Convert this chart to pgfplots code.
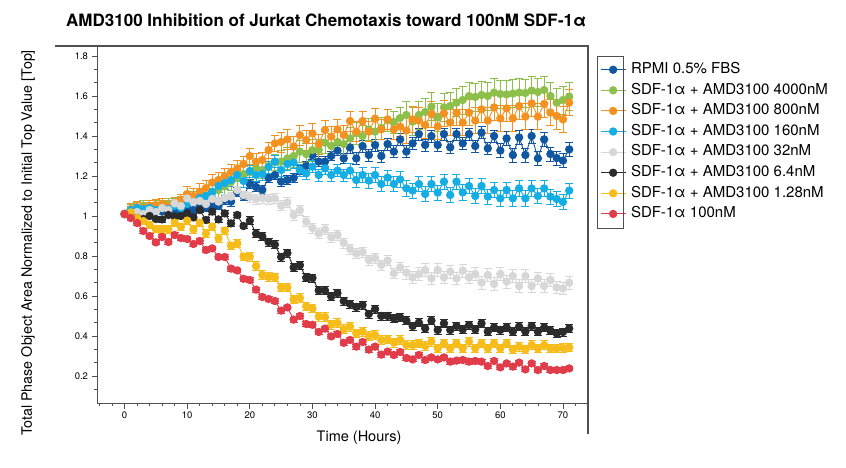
\documentclass[border=0pt]{standalone}
\usepackage{pgfplots}
\pgfplotsset{compat=1.18}
\usepackage{pgfplotstable}
\usepackage{fontspec}
\setmainfont{TeX Gyre Heros}

\definecolor{cRPMI}{RGB}{16,86,160}
\definecolor{cG}{RGB}{141,192,74}
\definecolor{cO}{RGB}{243,146,32}
\definecolor{cLB}{RGB}{20,174,229}
\definecolor{cGr}{RGB}{215,215,215}
\definecolor{cBk}{RGB}{43,43,43}
\definecolor{cY}{RGB}{246,188,26}
\definecolor{cR}{RGB}{224,60,74}
\definecolor{frame}{RGB}{80,80,80}

% time (h), mean and error for each condition
\pgfplotstableread{
t  rp    erp   g     eg    o     eo    lb    elb   gr    egr   bk    ebk   yl    eyl   rd    erd
0  1.01  0     1.01  0     1.01  0     1.01  0     1.01  0     1.01  0     1.01  0     1.01  0
1  1.03  0.018 1.03  0.03  1.035 0.03  1.03  0.02  1.01  0.02  1.0   0.014 1.018 0.018 0.99  0.012
2  1.04  0.018 1.04  0.03  1.045 0.03  1.04  0.02  1.02  0.02  0.99  0.014 0.99  0.018 0.965 0.012
3  1.03  0.018 1.05  0.03  1.04  0.03  1.035 0.02  1.01  0.02  0.985 0.014 0.975 0.018 0.925 0.012
4  1.04  0.018 1.04  0.03  1.05  0.03  1.04  0.02  1.03  0.02  1.0   0.014 0.955 0.018 0.90  0.012
5  1.03  0.018 1.05  0.03  1.055 0.03  1.03  0.02  1.02  0.02  0.985 0.014 0.935 0.018 0.868 0.012
6  1.025 0.018 1.05  0.03  1.06  0.03  1.04  0.02  1.04  0.02  0.983 0.014 0.933 0.018 0.895 0.012
7  1.035 0.018 1.06  0.03  1.05  0.03  1.035 0.02  1.03  0.02  1.005 0.014 0.933 0.018 0.87  0.012
8  1.02  0.018 1.06  0.03  1.063 0.03  1.05  0.02  1.063 0.02  0.997 0.014 0.967 0.018 0.905 0.012
9  1.03  0.018 1.07  0.03  1.08  0.03  1.04  0.02  1.05  0.02  1.0   0.014 0.947 0.018 0.89  0.012
10 1.04  0.018 1.08  0.04  1.11  0.04  1.06  0.02  1.088 0.02  1.013 0.014 0.977 0.018 0.885 0.012
11 1.03  0.018 1.085 0.04  1.10  0.04  1.07  0.02  1.07  0.02  0.993 0.014 0.933 0.018 0.86  0.012
12 1.05  0.018 1.09  0.04  1.122 0.04  1.09  0.02  1.075 0.02  1.03  0.014 0.967 0.018 0.875 0.012
13 1.04  0.018 1.10  0.04  1.14  0.04  1.10  0.02  1.06  0.02  0.98  0.014 0.913 0.018 0.83  0.012
14 1.06  0.018 1.12  0.04  1.167 0.04  1.12  0.02  1.085 0.02  1.022 0.014 0.947 0.018 0.838 0.012
15 1.05  0.018 1.13  0.04  1.18  0.04  1.15  0.03  1.072 0.02  0.983 0.014 0.888 0.018 0.795 0.012
16 1.08  0.024 1.15  0.04  1.20  0.04  1.165 0.03  1.09  0.02  1.013 0.014 0.927 0.018 0.795 0.012
17 1.072 0.024 1.17  0.04  1.22  0.04  1.18  0.03  1.097 0.02  0.963 0.014 0.852 0.018 0.737 0.012
18 1.12  0.024 1.19  0.04  1.238 0.04  1.205 0.03  1.13  0.02  1.005 0.014 0.863 0.018 0.728 0.012
19 1.10  0.024 1.21  0.04  1.26  0.04  1.175 0.03  1.105 0.02  0.95  0.014 0.797 0.018 0.686 0.012
20 1.16  0.024 1.22  0.04  1.30  0.04  1.225 0.03  1.095 0.025 0.977 0.02  0.797 0.022 0.68  0.012
21 1.145 0.024 1.24  0.04  1.272 0.04  1.205 0.03  1.085 0.025 0.912 0.02  0.75  0.022 0.632 0.012
22 1.13  0.024 1.23  0.04  1.28  0.04  1.21  0.03  1.09  0.025 0.898 0.02  0.705 0.022 0.595 0.012
23 1.19  0.024 1.25  0.04  1.33  0.04  1.245 0.03  1.085 0.025 0.87  0.02  0.695 0.022 0.585 0.012
24 1.205 0.024 1.27  0.04  1.363 0.04  1.272 0.03  1.088 0.025 0.857 0.02  0.693 0.022 0.575 0.012
25 1.172 0.024 1.272 0.055 1.37  0.05  1.23  0.03  1.052 0.025 0.795 0.02  0.643 0.022 0.527 0.012
26 1.18  0.024 1.288 0.055 1.383 0.05  1.26  0.03  1.067 0.025 0.815 0.02  0.643 0.022 0.543 0.012
27 1.19  0.024 1.30  0.055 1.347 0.05  1.267 0.03  1.005 0.025 0.743 0.02  0.583 0.022 0.482 0.012
28 1.23  0.024 1.322 0.055 1.405 0.05  1.23  0.03  1.03  0.025 0.754 0.02  0.59  0.022 0.50  0.012
29 1.25  0.024 1.31  0.055 1.38  0.05  1.213 0.03  0.972 0.025 0.692 0.02  0.548 0.022 0.46  0.012
30 1.305 0.024 1.33  0.055 1.413 0.05  1.247 0.03  0.94  0.025 0.69  0.02  0.538 0.022 0.456 0.012
31 1.272 0.024 1.33  0.055 1.36  0.05  1.205 0.03  0.913 0.025 0.628 0.02  0.497 0.022 0.42  0.012
32 1.272 0.024 1.367 0.055 1.43  0.05  1.238 0.03  0.933 0.025 0.628 0.02  0.495 0.022 0.437 0.012
33 1.30  0.024 1.35  0.055 1.397 0.05  1.205 0.03  0.893 0.025 0.598 0.02  0.457 0.022 0.398 0.012
34 1.327 0.024 1.37  0.055 1.433 0.05  1.227 0.03  0.905 0.025 0.615 0.02  0.465 0.022 0.41  0.012
35 1.288 0.024 1.36  0.055 1.405 0.05  1.205 0.03  0.865 0.025 0.575 0.02  0.434 0.022 0.366 0.012
36 1.343 0.03  1.388 0.055 1.475 0.05  1.227 0.038 0.835 0.025 0.56  0.02  0.447 0.022 0.38  0.012
37 1.288 0.03  1.413 0.055 1.422 0.05  1.18  0.038 0.813 0.025 0.545 0.02  0.413 0.022 0.347 0.012
38 1.35  0.03  1.40  0.055 1.475 0.05  1.205 0.038 0.82  0.025 0.555 0.02  0.422 0.022 0.37  0.012
39 1.305 0.03  1.433 0.055 1.422 0.05  1.177 0.038 0.78  0.025 0.51  0.02  0.40  0.022 0.332 0.012
40 1.355 0.03  1.422 0.055 1.487 0.05  1.205 0.038 0.79  0.025 0.535 0.02  0.405 0.022 0.347 0.012
41 1.30  0.03  1.44  0.055 1.433 0.05  1.16  0.038 0.755 0.025 0.50  0.02  0.38  0.022 0.307 0.012
42 1.36  0.03  1.48  0.055 1.483 0.05  1.192 0.038 0.777 0.025 0.50  0.02  0.383 0.022 0.322 0.012
43 1.322 0.03  1.47  0.055 1.433 0.05  1.16  0.038 0.713 0.025 0.488 0.02  0.367 0.022 0.305 0.012
44 1.383 0.03  1.49  0.055 1.447 0.05  1.183 0.038 0.743 0.025 0.493 0.02  0.38  0.022 0.32  0.012
45 1.322 0.03  1.505 0.07  1.427 0.065 1.138 0.038 0.717 0.032 0.477 0.02  0.355 0.022 0.29  0.012
46 1.363 0.03  1.472 0.07  1.483 0.065 1.127 0.038 0.693 0.032 0.45  0.02  0.355 0.022 0.283 0.012
47 1.41  0.03  1.505 0.07  1.477 0.065 1.16  0.038 0.71  0.032 0.467 0.02  0.363 0.022 0.305 0.012
48 1.355 0.03  1.52  0.07  1.455 0.065 1.11  0.038 0.73  0.032 0.438 0.02  0.35  0.022 0.28  0.012
49 1.40  0.03  1.547 0.07  1.51  0.065 1.16  0.038 0.688 0.032 0.477 0.02  0.372 0.022 0.293 0.012
50 1.355 0.03  1.493 0.07  1.447 0.065 1.117 0.038 0.73  0.032 0.43  0.02  0.338 0.022 0.283 0.012
51 1.41  0.03  1.543 0.07  1.513 0.065 1.172 0.038 0.693 0.032 0.463 0.02  0.363 0.022 0.293 0.012
52 1.343 0.03  1.55  0.07  1.467 0.065 1.105 0.038 0.722 0.032 0.43  0.02  0.338 0.022 0.272 0.012
53 1.41  0.03  1.567 0.07  1.517 0.065 1.172 0.038 0.688 0.032 0.45  0.02  0.363 0.022 0.277 0.012
54 1.363 0.03  1.58  0.07  1.467 0.065 1.118 0.038 0.727 0.032 0.433 0.02  0.338 0.022 0.28  0.012
55 1.41  0.03  1.60  0.07  1.517 0.065 1.15  0.038 0.693 0.032 0.455 0.02  0.372 0.022 0.272 0.012
56 1.35  0.03  1.595 0.07  1.477 0.065 1.10  0.038 0.71  0.032 0.433 0.02  0.338 0.022 0.275 0.012
57 1.417 0.03  1.605 0.07  1.533 0.065 1.15  0.038 0.667 0.032 0.463 0.02  0.363 0.022 0.272 0.012
58 1.338 0.03  1.60  0.07  1.477 0.065 1.097 0.038 0.705 0.032 0.422 0.02  0.338 0.022 0.25  0.012
59 1.40  0.03  1.617 0.07  1.543 0.065 1.13  0.038 0.66  0.032 0.443 0.02  0.363 0.022 0.275 0.012
60 1.327 0.035 1.61  0.07  1.488 0.065 1.088 0.038 0.71  0.032 0.43  0.02  0.338 0.022 0.243 0.012
61 1.388 0.035 1.608 0.07  1.538 0.065 1.13  0.038 0.672 0.032 0.443 0.02  0.363 0.022 0.263 0.012
62 1.305 0.035 1.612 0.07  1.488 0.065 1.088 0.038 0.70  0.032 0.422 0.02  0.333 0.022 0.247 0.012
63 1.393 0.035 1.617 0.07  1.55  0.065 1.138 0.038 0.65  0.032 0.447 0.02  0.347 0.022 0.267 0.012
64 1.305 0.035 1.615 0.07  1.497 0.065 1.088 0.038 0.70  0.032 0.422 0.02  0.333 0.022 0.233 0.012
65 1.40  0.035 1.627 0.07  1.563 0.065 1.138 0.038 0.65  0.032 0.45  0.02  0.355 0.022 0.263 0.012
66 1.288 0.035 1.62  0.07  1.497 0.065 1.10  0.038 0.688 0.032 0.422 0.02  0.338 0.022 0.23  0.012
67 1.383 0.035 1.63  0.07  1.56  0.065 1.138 0.038 0.65  0.032 0.443 0.02  0.355 0.022 0.25  0.012
68 1.31  0.035 1.60  0.07  1.517 0.065 1.097 0.038 0.68  0.032 0.427 0.02  0.338 0.022 0.23  0.012
69 1.29  0.035 1.567 0.07  1.50  0.065 1.085 0.038 0.643 0.032 0.413 0.02  0.338 0.022 0.23  0.012
70 1.277 0.035 1.58  0.07  1.483 0.065 1.07  0.038 0.638 0.032 0.42  0.02  0.34  0.022 0.23  0.012
71 1.333 0.035 1.597 0.07  1.567 0.065 1.127 0.038 0.667 0.032 0.438 0.02  0.343 0.022 0.238 0.012
}\chemodata

\pgfplotsset{
  series/.style={
    color=#1, line width=0.9pt, mark=*, mark size=3.7pt,
    mark options={solid, fill=#1, draw=#1},
    error bars/.cd, y dir=both, y explicit,
    error bar style={line width=0.9pt, #1},
    error mark options={rotate=90, mark size=4pt, line width=0.9pt, #1},
  },
}

\begin{document}
\begin{tikzpicture}
\useasboundingbox (0pt,0pt) rectangle (846pt,467pt);

\node[anchor=west, inner sep=0pt, font=\bfseries\fontsize{17}{20}\selectfont] at (66pt,447pt)
  {AMD3100 Inhibition of Jurkat Chemotaxis toward 100nM SDF-1α};

\begin{axis}[
  at={(97pt,64pt)}, anchor=south west,
  scale only axis, width=491pt, height=357pt,
  xmin=-4.4, xmax=74, ymin=0.065, ymax=1.85,
  axis x line*=bottom, axis y line*=left,
  axis line style={-, draw=frame, line width=1pt},
  tick align=outside,
  xtick={0,10,...,70},
  minor xtick={-4,-2,...,72},
  ytick={0.2,0.4,0.6,0.8,1,1.2,1.4,1.6,1.8},
  minor ytick={0.1333,0.2667,0.3333,0.4667,0.5333,0.6667,0.7333,0.8667,0.9333,
    1.0667,1.1333,1.2667,1.3333,1.4667,1.5333,1.6667,1.7333},
  major tick length=5.5pt, minor tick length=3pt,
  every tick/.style={draw=frame, line width=0.8pt},
  /pgf/number format/assume math mode=true,
  ticklabel style={font=\fontsize{9.5}{11}\selectfont},
  yticklabel style={/pgf/number format/fixed},
  clip=false,
  legend cell align=left,
  legend image code/.code={
    \draw[#1, mark repeat=2, mark phase=2]
      plot coordinates {(0pt,0pt) (12.5pt,0pt) (25pt,0pt)};
  },
  legend style={
    at={(1.0244,0.953)}, anchor=north west,
    draw=none, fill=none, inner sep=0pt,
    font=\fontsize{15}{18}\selectfont,
    row sep=7.1pt, column sep=5pt,
    nodes={inner sep=0pt, text height=10.5pt, text depth=3pt},
  },
]
\addplot[series=cRPMI] table[x=t, y=rp, y error=erp] {\chemodata};
\addlegendentry{RPMI 0.5\% FBS}
\addplot[series=cG] table[x=t, y=g, y error=eg] {\chemodata};
\addlegendentry{SDF-1α + AMD3100 4000nM}
\addplot[series=cO] table[x=t, y=o, y error=eo] {\chemodata};
\addlegendentry{SDF-1α + AMD3100 800nM}
\addplot[series=cLB] table[x=t, y=lb, y error=elb] {\chemodata};
\addlegendentry{SDF-1α + AMD3100 160nM}
\addplot[series=cGr] table[x=t, y=gr, y error=egr] {\chemodata};
\addlegendentry{SDF-1α + AMD3100 32nM}
\addplot[series=cBk] table[x=t, y=bk, y error=ebk] {\chemodata};
\addlegendentry{SDF-1α + AMD3100 6.4nM}
\addplot[series=cY] table[x=t, y=yl, y error=eyl] {\chemodata};
\addlegendentry{SDF-1α + AMD3100 1.28nM}
\addplot[series=cR] table[x=t, y=rd, y error=erd] {\chemodata};
\addlegendentry{SDF-1α 100nM}
\end{axis}

% outer frame on the top and right
\draw[frame, line width=1.2pt] (55pt,421pt) -- (588pt,421pt) -- (588pt,33pt);
% box round the legend symbols
\draw[frame, line width=1pt] (597pt,410pt) rectangle (623pt,239pt);

\node[rotate=90, font=\fontsize{14.3}{17}\selectfont] at (28pt,224pt)
  {Total Phase Object Area Normalized to Initial Top Value [Top]};
\node[font=\fontsize{14.5}{17}\selectfont] at (359pt,29pt) {Time (Hours)};
\end{tikzpicture}
\end{document}
